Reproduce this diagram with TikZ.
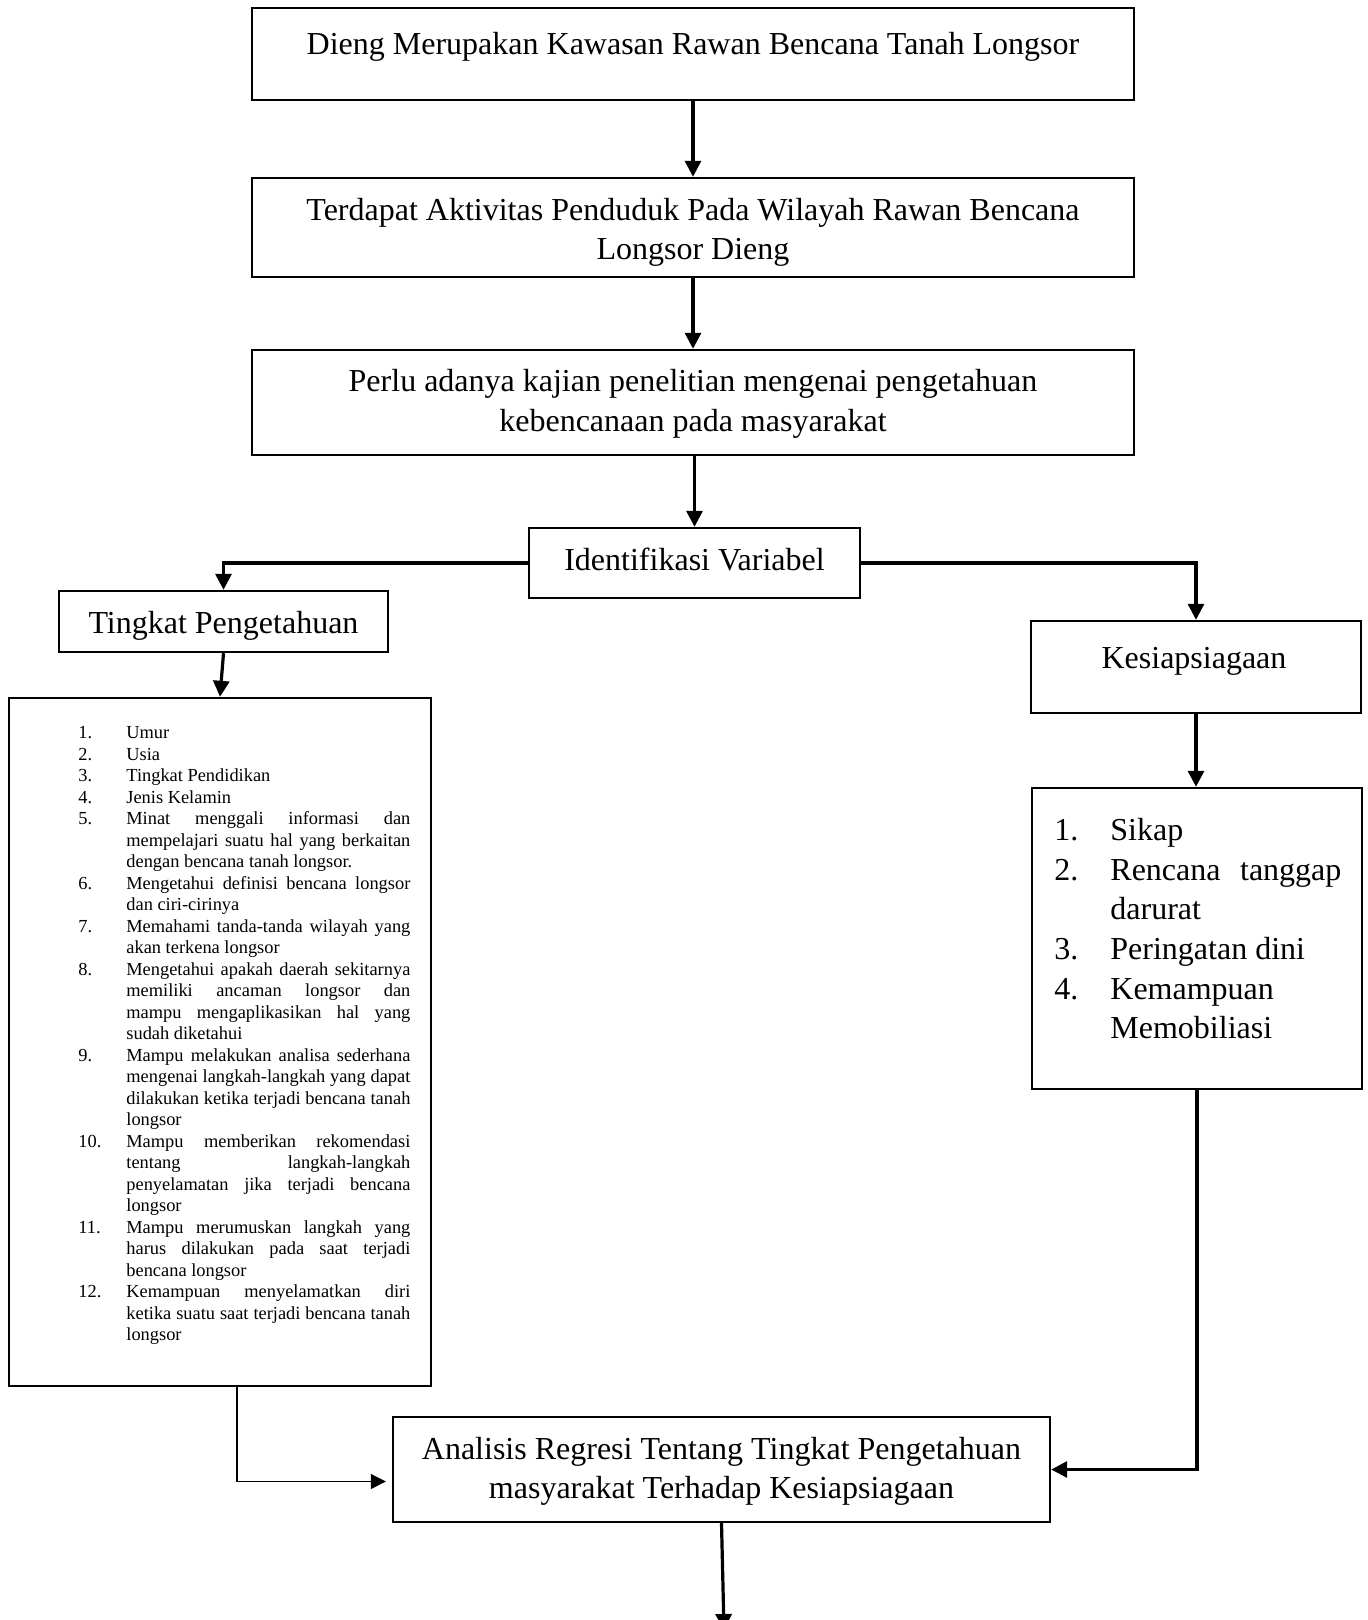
\documentclass[tikz,border=0pt]{standalone}
\usepackage{fontspec}
\setmainfont{Liberation Serif}
\usetikzlibrary{arrows.meta,calc}
\newcommand\litem[2]{\noindent\hangindent=24pt\hangafter=1\makebox[24pt][l]{#1}#2\par}
\newcommand\ritem[2]{\noindent\hangindent=28pt\hangafter=1\makebox[28pt][l]{#1}#2\par}
\begin{document}
\begin{tikzpicture}[x=0.5pt,y=-0.5pt,
  box/.style 2 args={draw, line width=1.2pt, minimum width={#1*0.5pt}, minimum height={#2*0.5pt}, inner sep=0pt},
  txt/.style={font=\fontsize{16}{19.8}\selectfont, inner sep=0pt},
  conn/.style={line width=1.6pt, -{Triangle[length=8pt,width=8pt]}},
  thin/.style={line width=0.6pt, -{Triangle[length=7.5pt,width=7.5pt]}, shorten >=3pt}]
\fill[white] (0,0) rectangle (1368,1620);
\useasboundingbox (0,0) rectangle (1368,1620);
% boxes
\node[box={882}{92}] (b1) at (693,54) {};
\node[box={882}{99}] (b2) at (693,227.5) {};
\node[box={882}{105}] (b3) at (693,402.5) {};
\node[box={331}{70}] (id) at (694.5,563) {};
\node[box={329}{61}] (tp) at (223.5,621.5) {};
\node[box={422}{688}] (lk) at (220,1042) {};
\node[box={330}{92}] (kes) at (1196,667) {};
\node[box={330}{301}] (rl) at (1197,938.5) {};
\node[box={657}{105}] (an) at (721.5,1469.5) {};
% texts
\node[txt, anchor=base] (t1) at (693,55) {Dieng Merupakan Kawasan Rawan Bencana Tanah Longsor};
\node[txt, align=center] (t2) at (693,232.5) {Terdapat Aktivitas Penduduk Pada Wilayah Rawan Bencana\\Longsor Dieng};
\node[txt, align=center] (t3) at (693,404) {Perlu adanya kajian penelitian mengenai pengetahuan\\kebencanaan pada masyarakat};
\node[txt, anchor=base] (tid) at (694.5,570) {Identifikasi Variabel};
\node[txt, anchor=base] (ttp) at (223.5,633) {Tingkat Pengetahuan};
\node[txt, anchor=base] (tkes) at (1194,668) {Kesiapsiagaan};
\node[txt, align=center] (tan) at (721.5,1471.5) {Analisis Regresi Tentang Tingkat Pengetahuan\\masyarakat Terhadap Kesiapsiagaan};
% left list
\node[anchor=north west, inner sep=0pt, text width=166pt, align=justify,
  font=\fontsize{9.2}{10.75}\selectfont] (tlk) at (78,726) {%
\hyphenpenalty=10000\exhyphenpenalty=10000\tolerance=10000\hbadness=10000
\litem{1.}{Umur}
\litem{2.}{Usia}
\litem{3.}{Tingkat Pendidikan}
\litem{4.}{Jenis Kelamin}
\litem{5.}{Minat menggali informasi dan\linebreak mempelajari suatu hal yang berkaitan\linebreak dengan bencana tanah longsor.}
\litem{6.}{Mengetahui definisi bencana longsor\linebreak dan ciri-cirinya}
\litem{7.}{Memahami tanda-tanda wilayah yang\linebreak akan terkena longsor}
\litem{8.}{Mengetahui apakah daerah sekitarnya\linebreak memiliki ancaman longsor dan\linebreak mampu mengaplikasikan hal yang\linebreak sudah diketahui}
\litem{9.}{Mampu melakukan analisa sederhana\linebreak mengenai langkah-langkah yang dapat\linebreak dilakukan ketika terjadi bencana tanah\linebreak longsor}
\litem{10.}{Mampu memberikan rekomendasi\linebreak tentang langkah-langkah\linebreak penyelamatan jika terjadi bencana\linebreak longsor}
\litem{11.}{Mampu merumuskan langkah yang\linebreak harus dilakukan pada saat terjadi\linebreak bencana longsor}
\litem{12.}{Kemampuan menyelamatkan diri\linebreak ketika suatu saat terjadi bencana tanah\linebreak longsor}};
% right list
\node[anchor=north west, inner sep=0pt, text width=143.5pt, align=justify,
  font=\fontsize{16}{19.8}\selectfont] (trl) at (1054,818) {%
\hyphenpenalty=10000\exhyphenpenalty=10000\tolerance=10000\hbadness=10000
\ritem{1.}{Sikap}
\ritem{2.}{Rencana tanggap\linebreak darurat}
\ritem{3.}{Peringatan dini}
\ritem{4.}{Kemampuan\linebreak Memobiliasi}};
% connectors
\coordinate (endb) at (724,1630);
\draw[conn] (b1.south) -- (b2.north);
\draw[conn] (b2.south) -- (b3.north);
\draw[conn] (id.north |- b3.south) -- (id.north);
\draw[conn] (id.west) -| (tp.north);
\draw[conn] (id.east) -| (kes.north);
\draw[conn] (tp.south) -- (lk.north);
\draw[conn] (kes.south) -- (kes.south |- rl.north);
\draw[conn] (rl.south) |- (an.east);
\draw[thin] ($(lk.south)+(17,0)$) |- ($(an.west)+(0,12)$);
\draw[conn] (an.south) -- (endb);
\end{tikzpicture}
\end{document}
